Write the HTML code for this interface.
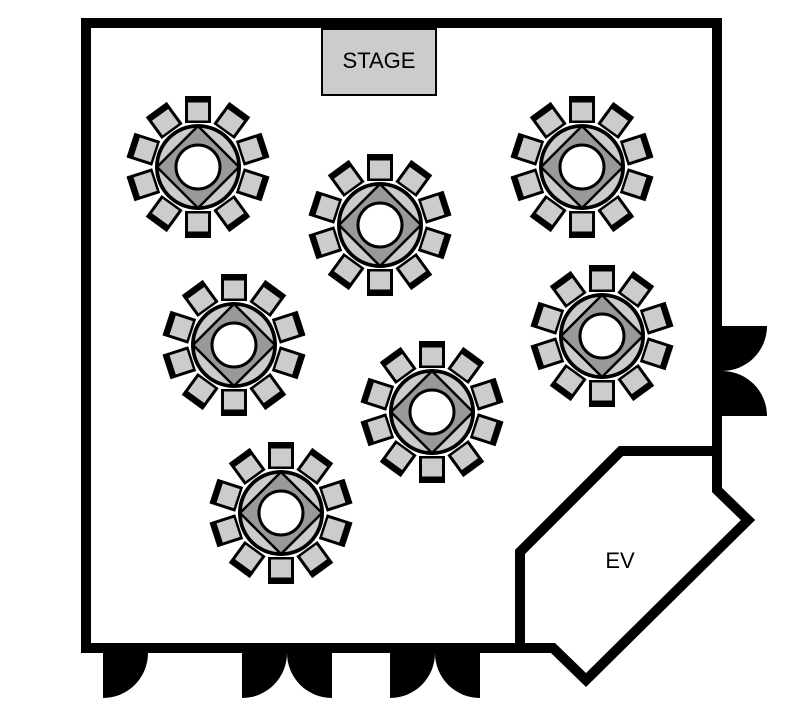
<!DOCTYPE html>
<html><head><style>html,body{margin:0;padding:0;background:#fff}svg{display:block}</style></head>
<body>
<svg width="800" height="717" viewBox="0 0 800 717" xmlns="http://www.w3.org/2000/svg">
<defs>
<g id="ch"><rect x="-13" y="-71" width="26" height="27" fill="#000"/><rect x="-10.5" y="-65" width="21" height="19" fill="#ccc" stroke="#000" stroke-width="1"/></g>
<g id="tb">
<use href="#ch" transform="rotate(0)"/><use href="#ch" transform="rotate(36)"/><use href="#ch" transform="rotate(72)"/><use href="#ch" transform="rotate(108)"/><use href="#ch" transform="rotate(144)"/><use href="#ch" transform="rotate(180)"/><use href="#ch" transform="rotate(216)"/><use href="#ch" transform="rotate(252)"/><use href="#ch" transform="rotate(288)"/><use href="#ch" transform="rotate(324)"/>
<circle r="43" fill="#000"/>
<circle r="40" fill="#ccc" stroke="#000" stroke-width="1.5"/>
<polygon points="0,-41 41,0 0,41 -41,0" fill="#999" stroke="#000" stroke-width="2.5"/>
<circle r="22" fill="#fff" stroke="#000" stroke-width="3"/>
</g>
</defs>
<path d="M86,23 H717 V490 L748,520 L586,680 L553,648 H86 Z" fill="none" stroke="#000" stroke-width="10" stroke-linejoin="miter"/>
<path d="M717,451 H621 L520,552 V648" fill="none" stroke="#000" stroke-width="10"/>
<path d="M722,326 H767 A45,45 0 0 1 722,371 Z" fill="#000"/>
<path d="M722,416 H767 A45,45 0 0 0 722,371 Z" fill="#000"/>
<path d="M103,653 V698 A45,45 0 0 0 148,653 Z" fill="#000"/>
<path d="M242,653 V698 A45,45 0 0 0 287,653 Z" fill="#000"/>
<path d="M332,653 V698 A45,45 0 0 1 287,653 Z" fill="#000"/>
<path d="M390,653 V698 A45,45 0 0 0 435,653 Z" fill="#000"/>
<path d="M480,653 V698 A45,45 0 0 1 435,653 Z" fill="#000"/>
<rect x="322" y="29" width="114" height="66" fill="#ccc" stroke="#000" stroke-width="2"/>
<text x="379" y="68" text-anchor="middle" font-family="Liberation Sans, sans-serif" font-size="22">STAGE</text>
<text x="620" y="568" text-anchor="middle" font-family="Liberation Sans, sans-serif" font-size="22">EV</text>
<use href="#tb" transform="translate(198,167)"/>
<use href="#tb" transform="translate(380,225)"/>
<use href="#tb" transform="translate(582,167)"/>
<use href="#tb" transform="translate(234,345)"/>
<use href="#tb" transform="translate(602,336)"/>
<use href="#tb" transform="translate(432,412)"/>
<use href="#tb" transform="translate(281,513)"/>
</svg>
</body></html>
